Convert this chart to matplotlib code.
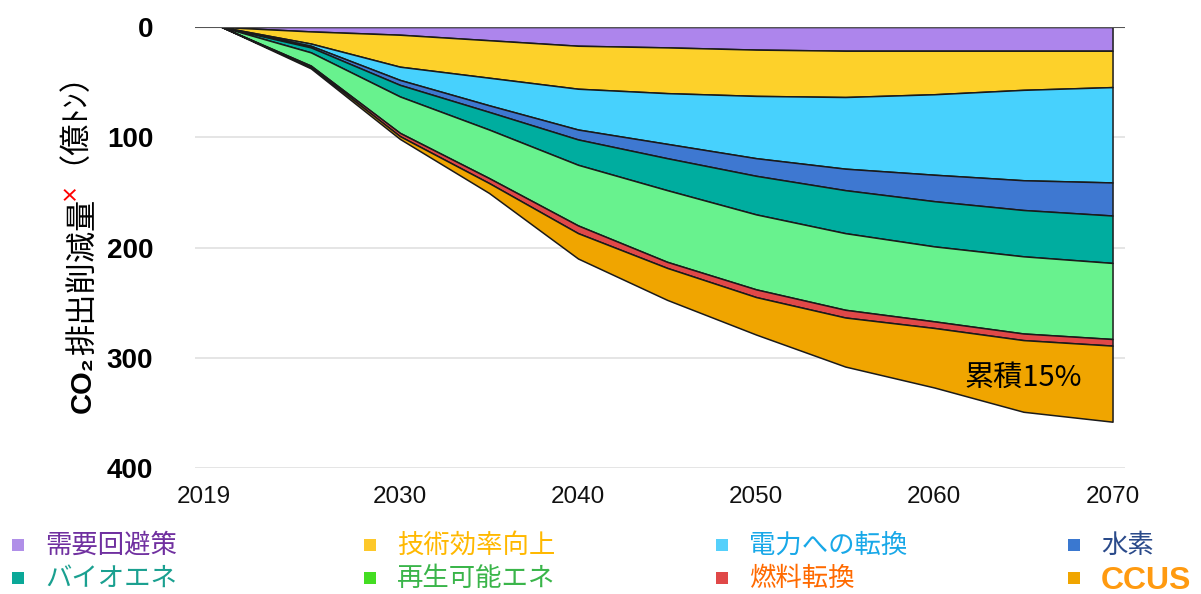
import numpy as np
import matplotlib.pyplot as plt
import matplotlib.transforms as mtransforms
from matplotlib import font_manager
from matplotlib.patches import Rectangle

#%% データ（億トン、各年の削減量）
years = [2020, 2025, 2030, 2035, 2040, 2045, 2050, 2055, 2060, 2065, 2070]
labels = ['需要回避策', '技術効率向上', '電力への転換', '水素',
          'バイオエネ', '再生可能エネ', '燃料転換', 'CCUS']
demand = [0, 4, 7, 12, 17, 18.5, 20.5, 21.5, 21.5, 21.5, 21.5]
efficiency = [0, 11, 29, 34, 39, 41.5, 42, 42, 39.5, 35.5, 33]
electric = [0, 2, 12, 25, 37, 46, 56.5, 65, 73, 82, 86.5]
hydrogen = [0, 1.5, 4.5, 6, 9, 13, 16, 19.5, 24, 27, 30]
bio = [0, 4.5, 10.5, 16, 23, 29, 35, 39, 41, 42, 43]
renew = [0, 12, 33, 44, 55, 65, 68, 69.5, 68, 70, 69]
fuel = [0, 1, 3, 4.5, 7, 5.5, 7, 7, 6, 6, 6]
ccus = [0, 1.5, 2.5, 9, 23, 29, 34, 44.5, 54, 65, 69]
xticks = [2019, 2030, 2040, 2050, 2060, 2070]
yticks = [0, 100, 200, 300, 400]

fill_colors = ['#ad85ec', '#fdd12a', '#47d1fd', '#3e78d1',
               '#00ad9f', '#68f28e', '#e04848', '#f0a500']
marker_colors = ['#b08fe8', '#fdc82a', '#55d0fb', '#3a78d0',
                 '#0aa898', '#44dd22', '#e04848', '#f0a500']
text_colors = ['#7030a0', '#ffb800', '#18a8e8', '#2a4a8a',
               '#1aa090', '#3ab54a', '#ff6a00', '#ff9a10']

jp = ['Noto Sans CJK JP', 'DejaVu Sans']
try:
    font_manager.findfont('Liberation Sans Narrow', fallback_to_default=False)
    narrow = 'Liberation Sans Narrow'
except Exception:
    narrow = 'Liberation Sans'

W, H = 1201, 594
fig = plt.figure(figsize=(W / 100, H / 100), dpi=100)
ax = fig.add_axes([195 / W, 1 - 468 / H, 930 / W, 441 / H])

series = [demand, efficiency, electric, hydrogen, bio, renew, fuel, ccus]
ax.stackplot(years, series, colors=fill_colors, edgecolor='#1a1a1a', linewidth=1.1)

ax.set_xlim(2018.5, 2070.7)
ax.set_ylim(400, 0)
ax.set_xticks(xticks)
ax.set_yticks(yticks)
ax.grid(axis='y', color='#e0e0e0', linewidth=1.2)
ax.set_axisbelow(True)
ax.axhline(0, color='#555555', linewidth=1.5, zorder=5)
for s in ax.spines.values():
    s.set_visible(False)
ax.tick_params(length=0)
ax.tick_params(axis='y', pad=30)
ax.tick_params(axis='x', pad=13)
for t in ax.get_yticklabels():
    t.set_fontfamily(['Liberation Sans', 'DejaVu Sans'])
    t.set_fontweight('bold')
    t.set_fontsize(20)
for t in ax.get_xticklabels():
    t.set_fontfamily([narrow, 'DejaVu Sans'])
    t.set_fontsize(20 if narrow != 'Liberation Sans' else 17.5)
    t.set_color('#111111')

ax.text(2065, 318, '累積15%', fontsize=21, family=jp, ha='center', va='center')

#%% 縦軸ラベル（ベースラインを揃えて下から積む）
ident = mtransforms.IdentityTransform()
fig.canvas.draw()
r = fig.canvas.get_renderer()
xb = 91
kw = dict(rotation=90, rotation_mode='anchor', ha='left', va='baseline', transform=ident)
t1 = fig.text(xb, H - 413, 'CO₂', fontsize=21, fontweight='bold',
              family=['Liberation Sans', 'DejaVu Sans'], **kw)
b = t1.get_window_extent(r)
t2 = fig.text(xb + 1, b.y1 + 1, '排出削減量', fontsize=22.5, family=jp, **kw)
b = t2.get_window_extent(r)
t3 = fig.text(xb - 16, b.y1 - 1, '×', fontsize=13, fontweight='bold', color='red',
              family=jp, **kw)
b3 = t3.get_window_extent(r)
fig.text(xb - 26, b3.y1 + 18, '（億ﾄﾝ）', fontsize=22.5, family=jp, **kw)

#%% 凡例
col_x = [18, 370, 722, 1074]
row_y = [545, 578]
for i, lab in enumerate(labels):
    cx = col_x[i % 4]
    cy = row_y[i // 4]
    fig.patches.append(Rectangle((cx - 6, H - cy - 6), 12, 12, transform=ident,
                                 facecolor=marker_colors[i], edgecolor='none'))
    if lab == 'CCUS':
        fig.text(cx + 27, H - cy - 3, lab, transform=ident, va='center', ha='left',
                 fontsize=23, fontweight='bold', color=text_colors[i],
                 family=['Liberation Sans', 'DejaVu Sans'])
    else:
        fig.text(cx + 27, H - cy, lab, transform=ident, va='center', ha='left',
                 fontsize=19, color=text_colors[i], family=jp)

fig.savefig('out.png', dpi=100)
